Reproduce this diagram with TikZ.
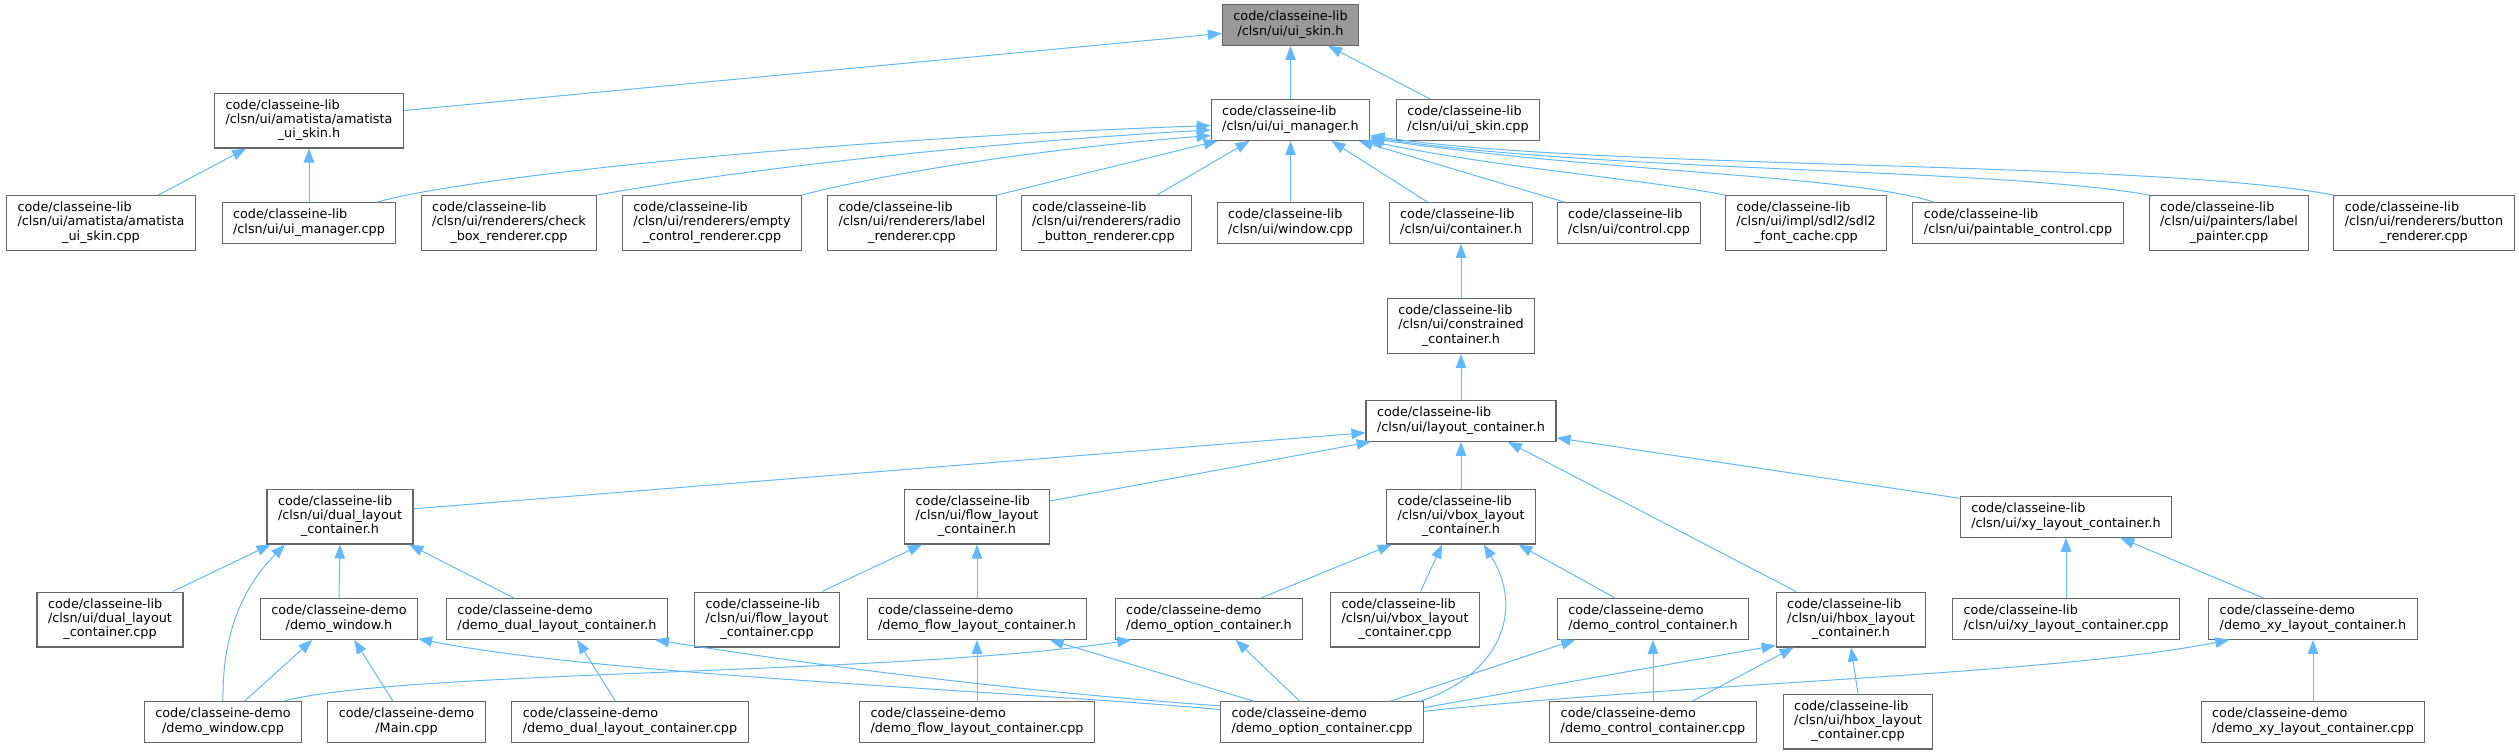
\documentclass[tikz,border=0pt]{standalone}
\usepackage{fontspec}
\setmainfont{DejaVu Sans}
\usepackage{xcolor}
\definecolor{edgeblue}{RGB}{99,184,255}
\definecolor{boxgray}{RGB}{102,102,102}
\definecolor{rootgray}{RGB}{153,153,153}
\usepackage{tikz}
\usetikzlibrary{arrows.meta}

\newcommand{\twol}[2]{\begin{tabular}{@{}l@{}}#1\\\multicolumn{1}{@{}c@{}}{#2}\end{tabular}}
\newcommand{\threel}[3]{\begin{tabular}{@{}l@{}}#1\\#2\\\multicolumn{1}{@{}c@{}}{#3}\end{tabular}}

\begin{document}
\begin{tikzpicture}[x=1pt,y=1pt,
        file/.style={draw=boxgray,fill=white,line width=1.1pt,inner xsep=11pt,inner ysep=6pt,font=\fontsize{12.8}{14.3}\selectfont},
        root/.style={file,fill=rootgray},
        incl/.style={draw=edgeblue,line width=1pt,-{Triangle[length=14pt,width=10.5pt]}},
    ]
    \useasboundingbox (0,0) rectangle (2519,-755);

    \node[root] (skinh) at (1290.5,-25) {\twol{code/classeine-lib}{/clsn/ui/ui\_skin.h}};

    \node[file] (amah)    at (309,-120.5)  {\threel{code/classeine-lib}{/clsn/ui/amatista/amatista}{\_ui\_skin.h}};
    \node[file] (uimh)    at (1290.5,-120) {\twol{code/classeine-lib}{/clsn/ui/ui\_manager.h}};
    \node[file] (skincpp) at (1468,-120)   {\twol{code/classeine-lib}{/clsn/ui/ui\_skin.cpp}};

    \node[file] (amacpp)     at (101,-223)    {\threel{code/classeine-lib}{/clsn/ui/amatista/amatista}{\_ui\_skin.cpp}};
    \node[file] (uimcpp)     at (309,-223)    {\twol{code/classeine-lib}{/clsn/ui/ui\_manager.cpp}};
    \node[file] (checkbox)   at (509,-223)    {\threel{code/classeine-lib}{/clsn/ui/renderers/check}{\_box\_renderer.cpp}};
    \node[file] (emptyctl)   at (712,-223)    {\threel{code/classeine-lib}{/clsn/ui/renderers/empty}{\_control\_renderer.cpp}};
    \node[file] (labelrend)  at (912,-223)    {\threel{code/classeine-lib}{/clsn/ui/renderers/label}{\_renderer.cpp}};
    \node[file] (radiorend)  at (1106.5,-223) {\threel{code/classeine-lib}{/clsn/ui/renderers/radio}{\_button\_renderer.cpp}};
    \node[file] (windowcpp)  at (1290.5,-223) {\twol{code/classeine-lib}{/clsn/ui/window.cpp}};
    \node[file] (containerh) at (1461,-223)   {\twol{code/classeine-lib}{/clsn/ui/container.h}};
    \node[file] (controlcpp) at (1629,-223)   {\twol{code/classeine-lib}{/clsn/ui/control.cpp}};
    \node[file] (fontcache)  at (1806,-223)   {\threel{code/classeine-lib}{/clsn/ui/impl/sdl2/sdl2}{\_font\_cache.cpp}};
    \node[file] (paintable)  at (2018,-223)   {\twol{code/classeine-lib}{/clsn/ui/paintable\_control.cpp}};
    \node[file] (labelpaint) at (2229,-223)   {\threel{code/classeine-lib}{/clsn/ui/painters/label}{\_painter.cpp}};
    \node[file] (buttonrend) at (2424,-223)   {\threel{code/classeine-lib}{/clsn/ui/renderers/button}{\_renderer.cpp}};

    \node[file] (constrh) at (1461,-326) {\threel{code/classeine-lib}{/clsn/ui/constrained}{\_container.h}};
    \node[file] (layouth) at (1461,-421) {\twol{code/classeine-lib}{/clsn/ui/layout\_container.h}};

    \node[file] (dualh) at (340,-516.5)  {\threel{code/classeine-lib}{/clsn/ui/dual\_layout}{\_container.h}};
    \node[file] (flowh) at (977,-516.5)  {\threel{code/classeine-lib}{/clsn/ui/flow\_layout}{\_container.h}};
    \node[file] (vboxh) at (1461,-516.5) {\threel{code/classeine-lib}{/clsn/ui/vbox\_layout}{\_container.h}};
    \node[file] (xyh)   at (2066,-517)   {\twol{code/classeine-lib}{/clsn/ui/xy\_layout\_container.h}};

    \node[file] (dualcpp)  at (110,-619.5)  {\threel{code/classeine-lib}{/clsn/ui/dual\_layout}{\_container.cpp}};
    \node[file] (dwinh)    at (339,-619)    {\twol{code/classeine-demo}{/demo\_window.h}};
    \node[file] (ddualh)   at (557,-619)    {\twol{code/classeine-demo}{/demo\_dual\_layout\_container.h}};
    \node[file] (flowcpp)  at (767,-619.5)  {\threel{code/classeine-lib}{/clsn/ui/flow\_layout}{\_container.cpp}};
    \node[file] (dflowh)   at (977,-619)    {\twol{code/classeine-demo}{/demo\_flow\_layout\_container.h}};
    \node[file] (doptionh) at (1209,-619)   {\twol{code/classeine-demo}{/demo\_option\_container.h}};
    \node[file] (vboxcpp)  at (1405,-619.5) {\threel{code/classeine-lib}{/clsn/ui/vbox\_layout}{\_container.cpp}};
    \node[file] (dctlh)    at (1653,-619)   {\twol{code/classeine-demo}{/demo\_control\_container.h}};
    \node[file] (hboxh)    at (1851,-619.5) {\threel{code/classeine-lib}{/clsn/ui/hbox\_layout}{\_container.h}};
    \node[file] (xycpp)    at (2066,-619)   {\twol{code/classeine-lib}{/clsn/ui/xy\_layout\_container.cpp}};
    \node[file] (dxyh)     at (2313,-619)   {\twol{code/classeine-demo}{/demo\_xy\_layout\_container.h}};

    \node[file] (dwincpp)    at (223,-722)    {\twol{code/classeine-demo}{/demo\_window.cpp}};
    \node[file] (maincpp)    at (406.5,-722)  {\twol{code/classeine-demo}{/Main.cpp}};
    \node[file] (ddualcpp)   at (630,-722)    {\twol{code/classeine-demo}{/demo\_dual\_layout\_container.cpp}};
    \node[file] (dflowcpp)   at (977,-722)    {\twol{code/classeine-demo}{/demo\_flow\_layout\_container.cpp}};
    \node[file] (doptioncpp) at (1322,-722)   {\twol{code/classeine-demo}{/demo\_option\_container.cpp}};
    \node[file] (dctlcpp)    at (1653,-722)   {\twol{code/classeine-demo}{/demo\_control\_container.cpp}};
    \node[file] (hboxcpp)    at (1858,-721.5) {\threel{code/classeine-lib}{/clsn/ui/hbox\_layout}{\_container.cpp}};
    \node[file] (dxycpp)     at (2313,-722)   {\twol{code/classeine-demo}{/demo\_xy\_layout\_container.cpp}};

    \draw[incl] (amah.6) -- (skinh.187);
    \draw[incl] (uimh.north) -- (skinh.south);
    \draw[incl] (skincpp.151) -- (skinh.-29);

    \draw[incl] (amacpp.26) -- (amah.204);
    \draw[incl] (uimcpp.north) -- (amah.south);

    \draw[incl] (uimcpp.17) .. controls (450,-180) and (800,-140) .. (uimh.184);
    \draw[incl] (checkbox.north east) .. controls (680,-180) and (900,-148) .. (uimh.187);
    \draw[incl] (emptyctl.north east) .. controls (850,-182) and (1000,-152) .. (uimh.191);
    \draw[incl] (labelrend.north east) -- (uimh.196);
    \draw[incl] (radiorend.29) -- (uimh.207);
    \draw[incl] (windowcpp.north) -- (uimh.south);
    \draw[incl] (containerh.148) -- (uimh.-27);
    \draw[incl] (controlcpp.162) -- (uimh.-17);
    \draw[incl] (fontcache.north west) .. controls (1650,-180) and (1500,-168) .. (uimh.-15);
    \draw[incl] (paintable.166) .. controls (1850,-175) and (1600,-172) .. (uimh.-13);
    \draw[incl] (labelpaint.north west) .. controls (2000,-168) and (1600,-172) .. (uimh.-12);
    \draw[incl] (buttonrend.north west) .. controls (2150,-160) and (1600,-170) .. (uimh.-11);

    \draw[incl] (constrh.north) -- (containerh.south);
    \draw[incl] (layouth.north) -- (constrh.south);

    \draw[incl] (dualh.6) -- (layouth.187);
    \draw[incl] (flowh.12) -- (layouth.193);
    \draw[incl] (vboxh.north) -- (layouth.south);
    \draw[incl] (hboxh.153) -- (layouth.-24);
    \draw[incl] (xyh.170) -- (layouth.-10);

    \draw[incl] (dualcpp.24) -- (dualh.202);
    \draw[incl] (dwincpp.north) .. controls (222,-630) and (245,-585) .. (dualh.207);
    \draw[incl] (dwinh.north) -- (dualh.south);
    \draw[incl] (ddualh.154) -- (dualh.-22);

    \draw[incl] (flowcpp.27) -- (flowh.207);
    \draw[incl] (dflowh.north) -- (flowh.south);

    \draw[incl] (doptionh.22) -- (vboxh.202);
    \draw[incl] (vboxcpp.61) -- (vboxh.236);
    \draw[incl] (doptioncpp.12) .. controls (1500,-675) and (1525,-610) .. (vboxh.-51);
    \draw[incl] (dctlh.151) -- (vboxh.-26);

    \draw[incl] (doptioncpp.8) -- (hboxh.199);
    \draw[incl] (dctlcpp.28) -- (hboxh.206);
    \draw[incl] (hboxcpp.north) -- (hboxh.south);

    \draw[incl] (xycpp.north) -- (xyh.south);
    \draw[incl] (dxyh.157) -- (xyh.-21);

    \draw[incl] (dwincpp.44) -- (dwinh.218);
    \draw[incl] (maincpp.123) -- (dwinh.-54);
    \draw[incl] (doptioncpp.173) .. controls (1000,-690) and (600,-675) .. (dwinh.-14);

    \draw[incl] (ddualcpp.125) -- (ddualh.-46);
    \draw[incl] (doptioncpp.171) .. controls (1000,-690) and (800,-663) .. (ddualh.-12);

    \draw[incl] (dflowcpp.north) -- (dflowh.south);
    \draw[incl] (doptioncpp.163) -- (dflowh.-16);

    \draw[incl] (dwincpp.19) .. controls (400,-670) and (900,-675) .. (doptionh.195);
    \draw[incl] (doptioncpp.137) -- (doptionh.-38);

    \draw[incl] (doptioncpp.17) -- (dctlh.195);
    \draw[incl] (dctlcpp.north) -- (dctlh.south);

    \draw[incl] (doptioncpp.6) .. controls (1700,-682) and (2050,-675) .. (dxyh.194);
    \draw[incl] (dxycpp.north) -- (dxyh.south);
\end{tikzpicture}
\end{document}
